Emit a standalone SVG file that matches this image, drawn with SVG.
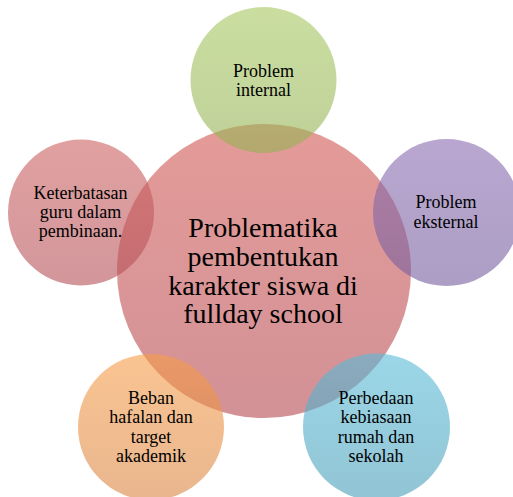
<svg xmlns="http://www.w3.org/2000/svg" width="513" height="497" viewBox="0 0 513 497">
<defs>
<linearGradient id="gC" x1="0" y1="0" x2="0" y2="1"><stop offset="0" stop-color="#D25853"/><stop offset="1" stop-color="#B44850"/></linearGradient>
<linearGradient id="gG" x1="0" y1="0" x2="0" y2="1"><stop offset="0" stop-color="#A8C861"/><stop offset="1" stop-color="#93B153"/></linearGradient>
<linearGradient id="gP" x1="0" y1="0" x2="0" y2="1"><stop offset="0" stop-color="#8A6CB1"/><stop offset="1" stop-color="#755D9D"/></linearGradient>
<linearGradient id="gO" x1="0" y1="0" x2="0" y2="1"><stop offset="0" stop-color="#F79D48"/><stop offset="1" stop-color="#D98543"/></linearGradient>
<linearGradient id="gB" x1="0" y1="0" x2="0" y2="1"><stop offset="0" stop-color="#58BCD9"/><stop offset="1" stop-color="#489DB7"/></linearGradient>
<linearGradient id="gR" x1="0" y1="0" x2="0" y2="1"><stop offset="0" stop-color="#CD6161"/><stop offset="1" stop-color="#B45058"/></linearGradient>
</defs>
<style>
circle{fill-opacity:0.6}
text{font-family:"Liberation Serif","Times New Roman",serif;fill:#000;text-anchor:middle}
.s{font-size:18px}
.b{font-size:28px}
</style>
<rect width="513" height="497" fill="#fff"/>
<g id="connectors"></g>
<g id="center">
<circle cx="264" cy="271" r="147" fill="url(#gC)"/>
</g>
<g id="top">
<circle cx="263.5" cy="80" r="73" fill="url(#gG)"/>
<text class="s" x="263.5" y="77">Problem</text>
<text class="s" x="263.5" y="96">internal</text>
</g>
<g id="right">
<circle cx="446.5" cy="212.5" r="73.5" fill="url(#gP)"/>
<text class="s" x="446" y="208">Problem</text>
<text class="s" x="446" y="228">eksternal</text>
</g>
<g id="bottomright">
<circle cx="376.5" cy="427" r="73.5" fill="url(#gB)"/>
<text class="s" x="376" y="404">Perbedaan</text>
<text class="s" x="376" y="423">kebiasaan</text>
<text class="s" x="376" y="443">rumah dan</text>
<text class="s" x="376" y="462">sekolah</text>
</g>
<g id="bottomleft">
<circle cx="151" cy="427" r="73" fill="url(#gO)"/>
<text class="s" x="151" y="404">Beban</text>
<text class="s" x="151" y="423">hafalan dan</text>
<text class="s" x="151" y="443">target</text>
<text class="s" x="151" y="462">akademik</text>
</g>
<g id="left">
<circle cx="81" cy="212.5" r="73" fill="url(#gR)"/>
<text class="s" x="80.5" y="199">Keterbatasan</text>
<text class="s" x="80.5" y="218">guru dalam</text>
<text class="s" x="80.5" y="237">pembinaan.</text>
</g>
<g id="center-label">
<text class="b" x="263" y="237">Problematika</text>
<text class="b" x="263" y="266">pembentukan</text>
<text class="b" x="263" y="295">karakter siswa di</text>
<text class="b" x="263" y="323">fullday school</text>
</g>
</svg>
